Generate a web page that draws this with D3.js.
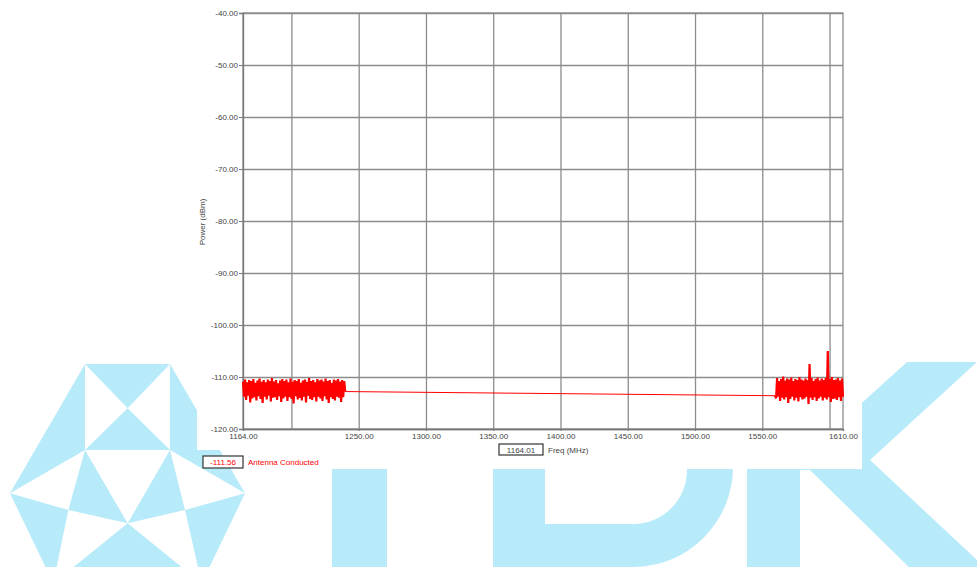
<!DOCTYPE html>
<html>
<head>
<meta charset="utf-8">
<script src="https://cdn.jsdelivr.net/npm/d3@7"></script>
<style>
  html, body { margin: 0; padding: 0; background: #ffffff; }
  svg { display: block; }
  text { font-family: "Liberation Sans", Arial, sans-serif; }
</style>
</head>
<body>
<svg id="chart" width="977" height="567"></svg>
<script>
// ---------- DATA ----------
const yTickValues = [-40, -50, -60, -70, -80, -90, -100, -110, -120];
const xGridValues = [1200, 1250, 1300, 1350, 1400, 1450, 1500, 1550, 1600];
const xTickLabels = [1164, 1250, 1300, 1350, 1400, 1450, 1500, 1550, 1610];

// left noise band sweep (1164 - 1240 MHz), power in dBm
const leftBandStart = 1164, leftBandEnd = 1240;
const leftBandPower = [
  -110.9,-113.8,-110.5,-114.4,-111.0,-113.6,-110.6,-114.9,-110.8,-114.1,
  -110.4,-113.9,-111.1,-114.5,-110.7,-113.7,-110.3,-114.2,-110.9,-115.0,
  -110.6,-113.8,-111.0,-114.3,-110.5,-113.6,-110.8,-114.7,-110.2,-114.0,
  -110.9,-113.9,-110.6,-114.4,-111.2,-113.7,-110.7,-114.8,-110.4,-114.1,
  -110.8,-113.8,-110.5,-114.6,-111.0,-113.9,-110.3,-114.2,-110.9,-115.1,
  -110.6,-113.7,-110.8,-114.3,-110.4,-114.0,-111.1,-114.5,-110.7,-113.8,
  -110.5,-114.9,-110.9,-113.6,-110.2,-114.2,-110.8,-114.4,-110.6,-113.9,
  -111.0,-114.7,-110.4,-113.8,-110.7,-114.1,-110.5,-114.6,-110.9,-113.7,
  -110.3,-114.3,-110.8,-115.0,-110.6,-113.9,-111.1,-114.2,-110.5,-114.5,
  -110.7,-113.8,-110.4,-114.0,-110.9,-114.8,-110.6,-113.9,-110.8,-112.8
];

// gap between the bands
const gapFreq  = [1240, 1320, 1400, 1480, 1559.5];
const gapPower = [-112.8, -113.0, -113.2, -113.4, -113.6];

// right noise band sweep (1559.5 - 1610 MHz)
const rightBandStart = 1559.5, rightBandEnd = 1610;
const rightBandPower = [
  -113.6,-114.1,-110.2,-113.8,-110.8,-114.6,-110.4,-114.0,-109.9,-114.3,
  -110.7,-113.9,-110.3,-115.0,-110.5,-114.2,-110.1,-113.8,-110.8,-114.5,
  -110.4,-114.0,-110.6,-114.7,-110.0,-113.9,-110.5,-114.3,-110.7,-114.1,
  -110.3,-113.8,-110.6,-115.2,-107.5,-114.0,-110.2,-114.4,-110.8,-113.9,
  -110.4,-114.6,-110.1,-114.1,-110.7,-113.8,-110.3,-114.5,-110.6,-114.0,
  -110.2,-114.3,-105.0,-113.9,-110.4,-114.8,-110.0,-114.2,-110.6,-114.1,
  -110.5,-114.4,-110.2,-113.9,-110.7,-114.6,-110.3,-113.8
];

const markerValue = "-111.56";
const seriesName = "Antenna Conducted";
const markerFreq = "1164.01";
const xTitle = "Freq (MHz)";
const yTitle = "Power (dBm)";

// ---------- BUILD TRACE ----------
function sweep(start, end, vals) {
  const step = (end - start) / (vals.length - 1);
  return vals.map((v, i) => ({ f: start + i * step, p: v }));
}
const leftTrace = sweep(leftBandStart, leftBandEnd, leftBandPower);
const gapTrace = gapFreq.map((f, i) => ({ f: f, p: gapPower[i] }));
const rightTrace = sweep(rightBandStart, rightBandEnd, rightBandPower);

// ---------- DRAW ----------
const svg = d3.select("#chart");
const wm = "#b8ebfa";

// watermark: hexagon logo (triangles)
const hex = svg.append("g");
const P = (zx, zy) => [zx / 3, zy / 3 + 350];
const tris = [
  [P(255,42), P(510,42), P(383,175)],
  [P(383,175), P(255,300), P(510,300)],
  [P(255,42), P(255,300), P(30,430)],
  [P(510,42), P(735,430), P(510,300)],
  [P(255,300), P(205,480), P(383,520)],
  [P(510,300), P(555,480), P(383,520)],
  [P(30,430), P(205,480), P(160,700)],
  [P(160,700), P(383,520), P(605,700)],
  [P(555,480), P(735,430), P(605,700)]
];
hex.selectAll("path").data(tris).enter().append("path")
  .attr("d", d => "M" + d.map(p => p.join(",")).join("L") + "Z")
  .attr("fill", wm);

// watermark: T
svg.append("rect").attr("x", 332).attr("y", 300).attr("width", 55).attr("height", 280).attr("fill", wm);
// watermark: D
svg.append("path")
  .attr("d", "M493,300 L733,300 L733,467 A100,100 0 0 1 633,567 L633,580 L493,580 Z " +
             "M545,300 L545,524 L633,524 A54,54 0 0 0 687,470 L687,300 Z")
  .attr("fill", wm).attr("fill-rule", "evenodd");
// watermark: K
svg.append("rect").attr("x", 747).attr("y", 300).attr("width", 53).attr("height", 280).attr("fill", wm);
svg.append("path")
  .attr("d", "M800,459 L907,362 L977,362 L870,460 L977,560 L977,580 L922,580 L810,470 L800,470 Z")
  .attr("fill", wm);

// chart paper
svg.append("path")
  .attr("d", "M197,0 L862,0 L862,469 L250,469 L250,450 L197,450 Z")
  .attr("fill", "#ffffff");

const pLeft = 243, pRight = 843, pTop = 13, pBottom = 429;
const x = d3.scaleLinear().domain([1164, 1610]).range([pLeft, pRight]);
const y = d3.scaleLinear().domain([-120, -40]).range([pBottom, pTop]);
const fmt = d => d.toFixed(2);

const gridColor = "#8c8c8c";

// horizontal grid
svg.append("g")
  .attr("transform", `translate(${pLeft},0)`)
  .call(d3.axisLeft(y).tickValues(yTickValues).tickSize(-(pRight - pLeft)).tickFormat(""))
  .call(g => g.select(".domain").remove())
  .call(g => g.selectAll("line").attr("stroke", gridColor).attr("stroke-width", 1.3));

// vertical grid
svg.append("g")
  .attr("transform", `translate(0,${pBottom})`)
  .call(d3.axisBottom(x).tickValues(xGridValues).tickSize(-(pBottom - pTop)).tickFormat(""))
  .call(g => g.select(".domain").remove())
  .call(g => g.selectAll("line").attr("stroke", gridColor).attr("stroke-width", 1.3));

// frame
svg.append("rect").attr("x", pLeft).attr("y", pTop).attr("width", pRight - pLeft).attr("height", pBottom - pTop)
  .attr("fill", "none").attr("stroke", gridColor).attr("stroke-width", 1.3);

// y axis
const yAxis = svg.append("g")
  .attr("transform", `translate(${pLeft},0)`)
  .call(d3.axisLeft(y).tickValues(yTickValues).tickSize(4).tickPadding(1).tickFormat(fmt));
yAxis.select(".domain").attr("stroke", "#777").attr("stroke-width", 1.3);
yAxis.selectAll("line").attr("stroke", "#777");
yAxis.selectAll("text").attr("font-size", 8).attr("fill", "#444")
  .attr("font-family", "'Liberation Sans', Arial, sans-serif");

// x axis
const xAxis = svg.append("g")
  .attr("transform", `translate(0,${pBottom})`)
  .call(d3.axisBottom(x).tickValues(xTickLabels).tickSize(2).tickPadding(2).tickFormat(fmt));
xAxis.select(".domain").attr("stroke", "#777").attr("stroke-width", 1.3);
xAxis.selectAll("line").attr("stroke", "#777");
xAxis.selectAll("text").attr("font-size", 8).attr("fill", "#444")
  .attr("font-family", "'Liberation Sans', Arial, sans-serif");

// trace
const line = d3.line().x(d => x(d.f)).y(d => y(d.p));
svg.append("path").datum(gapTrace)
  .attr("d", line).attr("fill", "none")
  .attr("stroke", "#ff0000").attr("stroke-width", 1);
[leftTrace, rightTrace].forEach(t => {
  svg.append("path").datum(t)
    .attr("d", line).attr("fill", "none")
    .attr("stroke", "#ff0000").attr("stroke-width", 2.2)
    .attr("stroke-linejoin", "bevel");
});

// y title
svg.append("text")
  .attr("transform", "translate(205,222) rotate(-90)")
  .attr("text-anchor", "middle")
  .attr("font-size", 8).attr("fill", "#444")
  .text(yTitle);

// legend marker box
svg.append("rect").attr("x", 203).attr("y", 456).attr("width", 40).attr("height", 12)
  .attr("fill", "#fff").attr("stroke", "#333").attr("stroke-width", 1.2);
svg.append("text").attr("x", 223).attr("y", 465).attr("text-anchor", "middle")
  .attr("font-size", 8).attr("fill", "#ff0000").text(markerValue);
svg.append("text").attr("x", 248).attr("y", 465)
  .attr("font-size", 8).attr("fill", "#ff0000").text(seriesName);

// freq marker box
svg.append("rect").attr("x", 499).attr("y", 444).attr("width", 44).attr("height", 11)
  .attr("fill", "#fff").attr("stroke", "#333").attr("stroke-width", 1.2);
svg.append("text").attr("x", 521).attr("y", 452.5).attr("text-anchor", "middle")
  .attr("font-size", 8).attr("fill", "#444").text(markerFreq);
svg.append("text").attr("x", 548).attr("y", 452.5)
  .attr("font-size", 8).attr("fill", "#444").text(xTitle);
</script>
</body>
</html>
